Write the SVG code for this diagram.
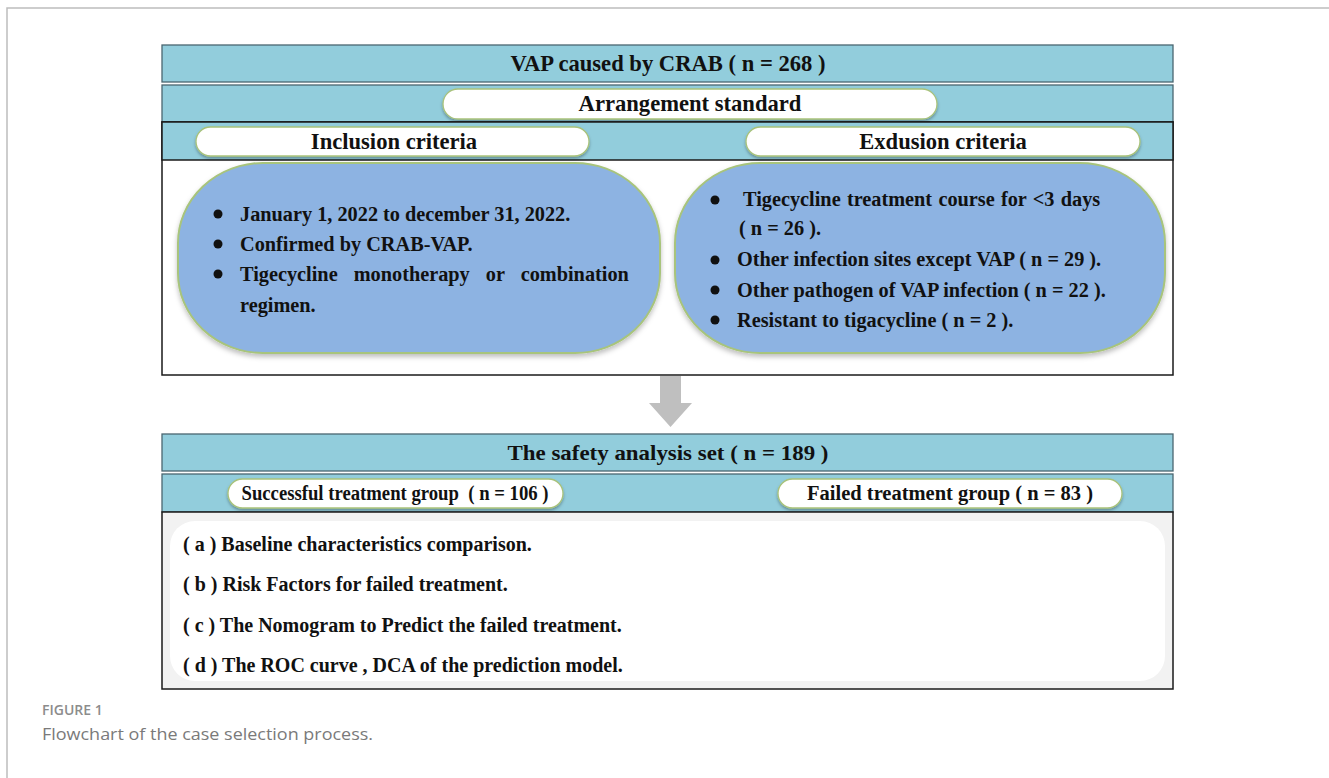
<svg xmlns="http://www.w3.org/2000/svg" width="1329" height="778" viewBox="0 0 1329 778">
<defs>
<style>
.band{fill:#92CDDC;stroke:#4A6670;stroke-width:1.3}
.pill{fill:#FFFFFF;stroke:#A9C27A;stroke-width:1.3}
.blob{fill:#8DB3E2;stroke:#A8C47C;stroke-width:2}
.hdr{font-family:"Liberation Serif","Times New Roman",serif;font-weight:bold;font-size:22.6px;fill:#111;text-anchor:middle}
.cnd{font-family:"Liberation Serif","Times New Roman",serif;font-weight:bold;font-size:22px;fill:#111;text-anchor:middle}
.cnds{font-family:"Liberation Serif","Times New Roman",serif;font-weight:bold;font-size:20.5px;fill:#111;text-anchor:middle}
.body{font-family:"Liberation Serif","Times New Roman",serif;font-weight:bold;font-size:20.3px;fill:#111}
.list{font-family:"Liberation Serif","Times New Roman",serif;font-weight:bold;font-size:20px;fill:#111}
.frame{fill:none;stroke:#BDBDBD;stroke-width:1.5}
.cap1{font-family:"Open Sans","Noto Sans",sans-serif;font-weight:600;font-size:14px;fill:#8C8C8C}
.cap2{font-family:"Open Sans","Noto Sans",sans-serif;font-weight:400;font-size:16.5px;fill:#7A7A7A}
</style>
<filter id="sh" x="-5%" y="-20%" width="110%" height="150%">
<feDropShadow dx="0" dy="2" stdDeviation="1.5" flood-color="#000" flood-opacity="0.3"/>
</filter>
<filter id="shb" x="-5%" y="-5%" width="110%" height="115%">
<feDropShadow dx="0" dy="3" stdDeviation="2.5" flood-color="#000" flood-opacity="0.25"/>
</filter>
</defs>

<g id="frame">
<path class="frame" d="M1329 8 H7 V778"/>
</g>

<g id="node-vap">
<rect class="band" x="162" y="45" width="1011" height="37"/>
<text class="hdr" x="668" y="71">VAP caused by CRAB ( n = 268 )</text>
</g>

<g id="node-arrangement">
<rect class="band" x="162" y="85" width="1011" height="37"/>
<rect class="pill" x="443" y="89" width="494" height="30" rx="15" filter="url(#sh)"/>
<text class="hdr" x="690" y="111">Arrangement standard</text>
</g>

<g id="node-criteria">
<rect x="162" y="122" width="1011" height="253" fill="#FFFFFF" stroke="#1A1A1A" stroke-width="1.5"/>
<rect x="162" y="122" width="1011" height="38" fill="#92CDDC" stroke="#1A1A1A" stroke-width="1.5"/>
</g>

<g id="node-inclusion-header">
<rect class="pill" x="196" y="127" width="393" height="29" rx="14.5" filter="url(#sh)"/>
<text class="hdr" x="394" y="149">Inclusion criteria</text>
</g>

<g id="node-exclusion-header">
<rect class="pill" x="746" y="127" width="394" height="29" rx="14.5" filter="url(#sh)"/>
<text class="hdr" x="943" y="149">Exdusion criteria</text>
</g>

<g id="node-inclusion">
<rect class="blob" x="178" y="163" width="482" height="190" rx="85" ry="80" filter="url(#shb)"/>
<circle cx="218" cy="214" r="4.5" fill="#111"/>
<circle cx="218" cy="244" r="4.5" fill="#111"/>
<circle cx="218" cy="274" r="4.5" fill="#111"/>
<text class="body" x="240" y="221">January 1, 2022 to december 31, 2022.</text>
<text class="body" x="240" y="251">Confirmed by CRAB-VAP.</text>
<text class="body" x="240" y="281" word-spacing="11">Tigecycline monotherapy or combination</text>
<text class="body" x="240" y="312">regimen.</text>
</g>

<g id="node-exclusion">
<rect class="blob" x="675" y="163" width="490" height="190" rx="85" ry="80" filter="url(#shb)"/>
<circle cx="715" cy="200" r="4.5" fill="#111"/>
<circle cx="715" cy="260" r="4.5" fill="#111"/>
<circle cx="715" cy="290" r="4.5" fill="#111"/>
<circle cx="715" cy="320" r="4.5" fill="#111"/>
<text class="body" x="743" y="206" word-spacing="1.2">Tigecycline treatment course for &lt;3 days</text>
<text class="body" x="739" y="235">( n = 26 ).</text>
<text class="body" x="737" y="266">Other infection sites except VAP ( n = 29 ).</text>
<text class="body" x="737" y="297">Other pathogen of VAP infection ( n = 22 ).</text>
<text class="body" x="737" y="327">Resistant to tigacycline ( n = 2 ).</text>
</g>

<g id="connectors">
<polygon points="660,376 681,376 681,403 692,403 670.5,427 649,403 660,403" fill="#BFBFBF"/>
</g>

<g id="node-safety">
<rect class="band" x="162" y="434" width="1011" height="37"/>
<text class="cnd" x="668" y="460" textLength="321" lengthAdjust="spacingAndGlyphs">The safety analysis set ( n = 189 )</text>
</g>

<g id="node-groups">
<rect class="band" x="162" y="474" width="1011" height="38"/>
</g>

<g id="node-success">
<rect class="pill" x="228" y="479" width="335" height="29" rx="14.5" filter="url(#sh)"/>
<text class="cnds" x="395" y="500" textLength="307" lengthAdjust="spacingAndGlyphs" xml:space="preserve">Successful treatment group  ( n = 106 )</text>
</g>

<g id="node-failed">
<rect class="pill" x="778" y="479" width="344" height="29" rx="14.5" filter="url(#sh)"/>
<text class="cnds" x="950" y="500" textLength="286" lengthAdjust="spacingAndGlyphs">Failed treatment group ( n = 83 )</text>
</g>

<g id="node-analyses">
<rect x="162" y="512" width="1011" height="177" fill="#F2F2F2" stroke="#1A1A1A" stroke-width="1.5"/>
<rect x="170" y="521" width="995" height="160" rx="25" fill="#FFFFFF"/>
<text class="list" x="183" y="551">( a ) Baseline characteristics comparison.</text>
<text class="list" x="183" y="591">( b ) Risk Factors for failed treatment.</text>
<text class="list" x="183" y="632">( c ) The Nomogram to Predict the failed treatment.</text>
<text class="list" x="183" y="672">( d ) The ROC curve , DCA of the prediction model.</text>
</g>

<g id="caption">
<text class="cap1" x="42" y="715">FIGURE 1</text>
<text class="cap2" x="42" y="740" textLength="331" lengthAdjust="spacingAndGlyphs">Flowchart of the case selection process.</text>
</g>
</svg>
